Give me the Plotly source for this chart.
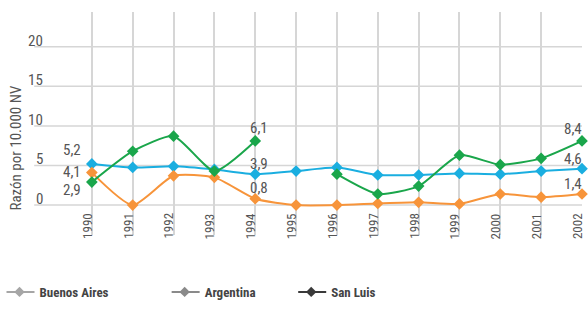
import plotly.graph_objects as go

years = [1990, 1991, 1992, 1993, 1994, 1995, 1996, 1997, 1998, 1999, 2000, 2001, 2002]
argentina = [5.2, 4.75, 4.9, 4.5, 3.9, 4.3, 4.75, 3.8, 3.8, 4.0, 3.9, 4.3, 4.6]
buenos_aires = [4.1, 0.0, 3.7, 3.5, 0.8, 0.0, 0.0, 0.2, 0.35, 0.15, 1.4, 1.0, 1.4]
san_luis = [2.9, 6.8, 8.7, 4.3, 8.1, None, 3.9, 1.4, 2.4, 6.3, 5.1, 5.9, 8.1]
y_ticks = [0, 5, 10, 15, 20]
x_grid = list(range(1989, 2003))

lab_1990 = [("5,2", 5.2, 14), ("4,1", 4.1, 1), ("2,9", 2.9, -8)]
lab_1994 = [("6,1", 8.1, 13), ("3,9", 3.9, 10), ("0,8", 0.8, 11)]
lab_2002 = [("8,4", 8.1, 12), ("4,6", 4.6, 10), ("1,4", 1.4, 10)]

BLUE = "#1aaee0"
ORANGE = "#f7943a"
GREEN = "#1aa64b"
TXT = "#555555"
FAM = "Roboto"

def cond(t):
    return '<span style="font-stretch:condensed">' + t + '</span>'

fig = go.Figure()

def add_series(vals, color):
    fig.add_trace(go.Scatter(
        x=years, y=vals, mode="lines+markers",
        line=dict(color=color, width=2, shape="spline", smoothing=0.6),
        marker=dict(symbol="diamond", size=9, color=color),
        connectgaps=False, cliponaxis=False, showlegend=False, hoverinfo="skip"))

add_series(argentina, BLUE)
add_series(buenos_aires, ORANGE)
add_series(san_luis, GREEN)

legend_items = [("Buenos Aires", "#a6a6a6", "legend"),
                ("Argentina", "#8a8a8a", "legend2"),
                ("San Luis", "#3a3a3a", "legend3")]
for name, col, lg in legend_items:
    fig.add_trace(go.Scatter(
        x=[None], y=[None], mode="lines+markers", name=cond(name),
        line=dict(color=col, width=2), marker=dict(symbol="diamond", size=8, color=col),
        legend=lg, showlegend=True))

def px_to_paper_x(px):
    return (px - 45) / 537.0

def py_to_paper_y(py):
    return (243 - py) / 231.0

legend_common = dict(orientation="h", yanchor="middle", xanchor="left", indentation=-7,
                     bgcolor="rgba(0,0,0,0)", borderwidth=0,
                     font=dict(size=13, color="#444444", weight="bold", family=FAM))

annotations = []
for t, v, dy in lab_1990:
    annotations.append(dict(x=1990, y=v, text=cond(t), showarrow=False, xanchor="right",
                            yanchor="middle", xshift=-9, yshift=dy,
                            font=dict(size=15, color=TXT, family=FAM)))
for t, v, dy in lab_1994:
    annotations.append(dict(x=1994, y=v, text=cond(t), showarrow=False, xanchor="center",
                            yanchor="middle", xshift=4, yshift=dy,
                            font=dict(size=15, color=TXT, family=FAM)))
for t, v, dy in lab_2002:
    annotations.append(dict(x=2002, y=v, text=cond(t), showarrow=False, xanchor="right",
                            yanchor="middle", xshift=2, yshift=dy,
                            font=dict(size=15, color=TXT, family=FAM)))
for yr in years:
    annotations.append(dict(x=yr, y=0, text=cond(str(yr)), showarrow=False, textangle=-90,
                            xanchor="center", yanchor="top", xshift=-5, yshift=-6,
                            font=dict(size=13, color=TXT, family=FAM)))
annotations.append(dict(xref="paper", yref="paper", x=px_to_paper_x(10), y=py_to_paper_y(152),
                        text=cond("Razón por 10.000 NV"), showarrow=False, textangle=-90,
                        xanchor="center", yanchor="middle",
                        font=dict(size=15, color=TXT, family=FAM)))
for v in y_ticks:
    annotations.append(dict(xref="paper", x=px_to_paper_x(39), y=v, text=cond(str(v)),
                            showarrow=False, xanchor="right", yanchor="middle", yshift=6,
                            font=dict(size=15, color=TXT, family=FAM)))

shapes = []
for v in y_ticks:
    shapes.append(dict(type="line", xref="paper", yref="y", x0=px_to_paper_x(28), x1=1,
                       y0=v, y1=v, line=dict(color="#d6d6d6", width=1.5), layer="below"))

fig.update_layout(
    width=588, height=313,
    margin=dict(l=45, r=6, t=12, b=70),
    paper_bgcolor="white", plot_bgcolor="white",
    xaxis=dict(range=[1989, 2002], tickvals=x_grid, showticklabels=False,
               showgrid=True, gridcolor="#d6d6d6", gridwidth=1.5, zeroline=False,
               showline=False, ticks=""),
    yaxis=dict(range=[(212 - 243) / 8.2, (212 - 12) / 8.2], showgrid=False,
               showticklabels=False, zeroline=False, showline=False, ticks=""),
    annotations=annotations, shapes=shapes,
    legend=dict(x=px_to_paper_x(0), y=py_to_paper_y(302), **legend_common),
    legend2=dict(x=px_to_paper_x(167), y=py_to_paper_y(302), **legend_common),
    legend3=dict(x=px_to_paper_x(295), y=py_to_paper_y(302), **legend_common),
)

fig.write_html("out.html")
